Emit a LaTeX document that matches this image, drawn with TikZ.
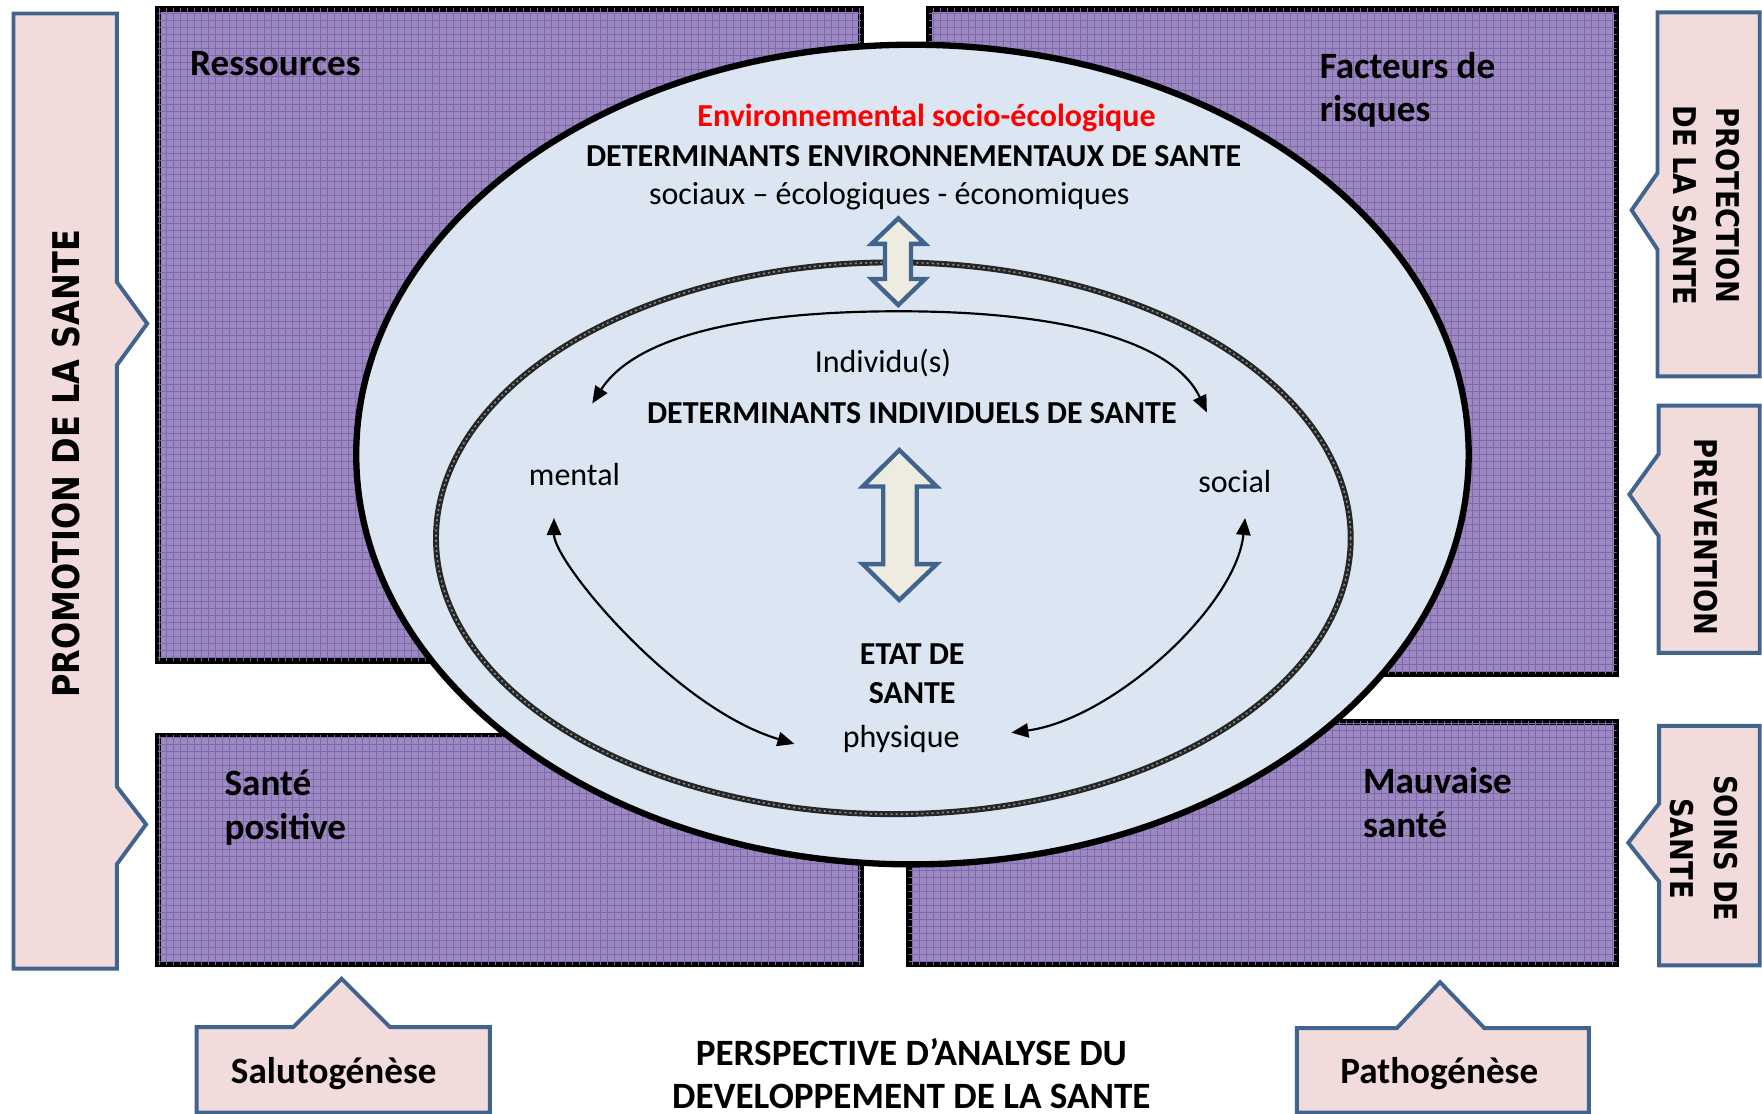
\documentclass[tikz,border=0pt]{standalone}
\usepackage{fontspec}
\setmainfont{Carlito}
\newfontfamily\vfont{DejaVu Sans}
\usetikzlibrary{arrows.meta,patterns.meta}
\definecolor{pinkf}{HTML}{F2DCDB}
\definecolor{blueb}{HTML}{41648F}
\definecolor{ellf}{HTML}{DCE6F2}
\definecolor{cream}{HTML}{EEECE1}
\definecolor{purpf}{HTML}{9C89C2}
\definecolor{purpl}{HTML}{7F69AB}
\definecolor{redt}{HTML}{FF0000}
\tikzdeclarepattern{name=pgrid, type=uncolored,
  tile size={(1.75pt,1.75pt)},
  bounding box={(0pt,0pt) and (1.75pt,1.75pt)},
  code={\draw[line width=0.4pt] (0pt,0pt) -- (1.75pt,0pt); \draw[line width=0.4pt] (0pt,0pt) -- (0pt,1.75pt);}}
\begin{document}
\begin{tikzpicture}[x=0.01cm,y=-0.01cm,
  purpbox/.style={draw=black,line width=1.4pt,fill=purpf,postaction={pattern=pgrid,pattern color=purpl}},
  sidebox/.style={draw=blueb,line width=1pt,fill=pinkf,line join=miter},
  dblarrow/.style={draw=blueb,line width=1.1pt,fill=cream,line join=miter},
  lbl/.style={inner sep=0pt,font=\fontsize{9.4}{11}\selectfont\bfseries},
  txt/.style={inner sep=0pt,font=\fontsize{8.1}{10}\selectfont},
  btxt/.style={inner sep=0pt,font=\fontsize{8.1}{10}\selectfont\bfseries},
  vbig/.style={inner sep=0pt,font=\vfont\bfseries\fontsize{8.1}{10}\selectfont},
  vsmall/.style={inner sep=0pt,align=center,font=\vfont\bfseries\fontsize{6.9}{11.1}\selectfont},
  carrow/.style={{Triangle[length=4.3pt,width=3.6pt]}-{Triangle[length=4.3pt,width=3.6pt]},line width=0.55pt}
]
\useasboundingbox (0,0) rectangle (1568,991.35);

% purple quadrants
\draw[purpbox] (140.5,8) rectangle (766,588);
\draw[purpbox] (826.8,8) rectangle (1438.6,599.6);
\draw[purpbox] (140.5,654.6) rectangle (766,858);
\draw[purpbox] (808.8,642.3) rectangle (1438.6,858);

% big ellipse
\draw[fill=ellf,draw=black,line width=1.6pt] (812,404.5) ellipse [x radius=495, y radius=364.7];
% inner ellipse (textured outline)
\draw[draw=black!85,line width=1.5pt] (795,479) ellipse [x radius=407, y radius=245.5];
\draw[draw=black!45,line width=0.4pt,dash pattern=on 0.5pt off 0.8pt] (795,479) ellipse [x radius=407, y radius=245.5];

% left bar
\draw[sidebox] (12,12) -- (104,12) -- (104,251) -- (131,288) -- (104,325) -- (104,700) -- (130,733.6) -- (104,769) -- (104,862) -- (12,862) -- cycle;
% right boxes
\draw[sidebox] (1475,11) -- (1566,11) -- (1566,335) -- (1475,335) -- (1475,222) -- (1452,187) -- (1475,154) -- cycle;
\draw[sidebox] (1476,361) -- (1566,361) -- (1566,581) -- (1476,581) -- (1476,477) -- (1450,440) -- (1476,404) -- cycle;
\draw[sidebox] (1476.5,646) -- (1566,646) -- (1566,859) -- (1476.5,859) -- (1476.5,784.5) -- (1449,750) -- (1476.5,715) -- cycle;
% bottom boxes
\draw[sidebox] (175,914) -- (261,914) -- (304,871) -- (347,914) -- (436,914) -- (436,990) -- (175,990) -- cycle;
\draw[sidebox] (1154,915) -- (1243,915) -- (1281.5,874) -- (1321,915) -- (1414,915) -- (1414,990) -- (1154,990) -- cycle;

% double arrows
\draw[dblarrow] (799.4,194.3) -- (823.2,217) -- (810.7,217) -- (810.7,248.3) -- (823.2,248.3) -- (799.4,271.4) -- (775.7,248.3) -- (787.6,248.3) -- (787.6,217) -- (775.7,217) -- cycle;
\draw[dblarrow] (800.3,400.5) -- (833.6,433) -- (815.8,433) -- (815.8,502) -- (833.6,502) -- (800.3,534) -- (767.7,502) -- (786,502) -- (786,433) -- (767.7,433) -- cycle;

% curved arrows
\coordinate (tl) at (527,359);
\coordinate (ttop) at (800,277);
\coordinate (tr) at (1074,367);
\coordinate (ml) at (493,461);
\coordinate (mb) at (707,662);
\coordinate (sr) at (1108,461);
\coordinate (sb) at (900,652);
\draw[carrow] (tl) .. controls (565,300) and (660,277) .. (ttop) .. controls (950,277) and (1045,305) .. (tr);
\draw[carrow] (ml) .. controls (493,500) and (600,630) .. (mb);
\draw[carrow] (sr) .. controls (1100,540) and (990,640) .. (sb);

% corner labels
\node[lbl,anchor=base west] (ress) at (168.6,66.8) {Ressources};
\node[lbl,anchor=base west] (fact1) at (1173.8,69.9) {Facteurs de};
\node[lbl,anchor=base west] (fact2) at (1173.8,108.5) {risques};
\node[lbl,anchor=base west] (sp1) at (199.2,707.5) {Santé};
\node[lbl,anchor=base west] (sp2) at (199.2,746.7) {positive};
\node[lbl,anchor=base west] (ms1) at (1212.3,705.9) {Mauvaise};
\node[lbl,anchor=base west] (ms2) at (1212.3,745.2) {santé};

% ellipse texts
\node[btxt,anchor=base,text=redt] (env) at (824.5,112.8) {Environnemental socio-écologique};
\node[btxt,anchor=base] (den) at (813,147.8) {DETERMINANTS ENVIRONNEMENTAUX DE SANTE};
\node[txt,anchor=base] (soc) at (791.4,181.8) {sociaux – écologiques - économiques};
\node[txt,anchor=base] (ind) at (785.8,331.6) {Individu(s)};
\node[btxt,anchor=base] (din) at (811.4,376.5) {DETERMINANTS INDIVIDUELS DE SANTE};
\node[txt,anchor=base west] (ment) at (470,431.6) {mental};
\node[txt,anchor=base west] (socl) at (1065.7,438.6) {social};
\node[btxt,anchor=base] (etat1) at (811.8,591) {ETAT DE};
\node[btxt,anchor=base] (etat2) at (811.8,625.6) {SANTE};
\node[txt,anchor=base] (phys) at (802,665) {physique};

% bottom labels
\node[lbl,anchor=base] (salu) at (297,963.8) {Salutogénèse};
\node[lbl,anchor=base] (patho) at (1280.8,963.8) {Pathogénèse};
\node[lbl,anchor=base] (persp1) at (811,948.5) {PERSPECTIVE D’ANALYSE DU};
\node[lbl,anchor=base] (persp2) at (811,986.5) {DEVELOPPEMENT DE LA SANTE};

% vertical labels
\node[vbig,rotate=90] (promo) at (59,412.7) {\scalebox{1}[1.15]{PROMOTION DE LA SANTE}};
\node[vsmall,rotate=-90] (prot) at (1518.5,183) {\scalebox{1}[1.15]{PROTECTION}\\\scalebox{1}[1.15]{DE LA SANTE}};
\node[vsmall,rotate=-90] (prev) at (1518,478) {\scalebox{1}[1.15]{PREVENTION}};
\node[vsmall,rotate=-90] (soins) at (1516.5,755) {\scalebox{1}[1.15]{SOINS DE}\\\scalebox{1}[1.15]{SANTE}};
\end{tikzpicture}
\end{document}
